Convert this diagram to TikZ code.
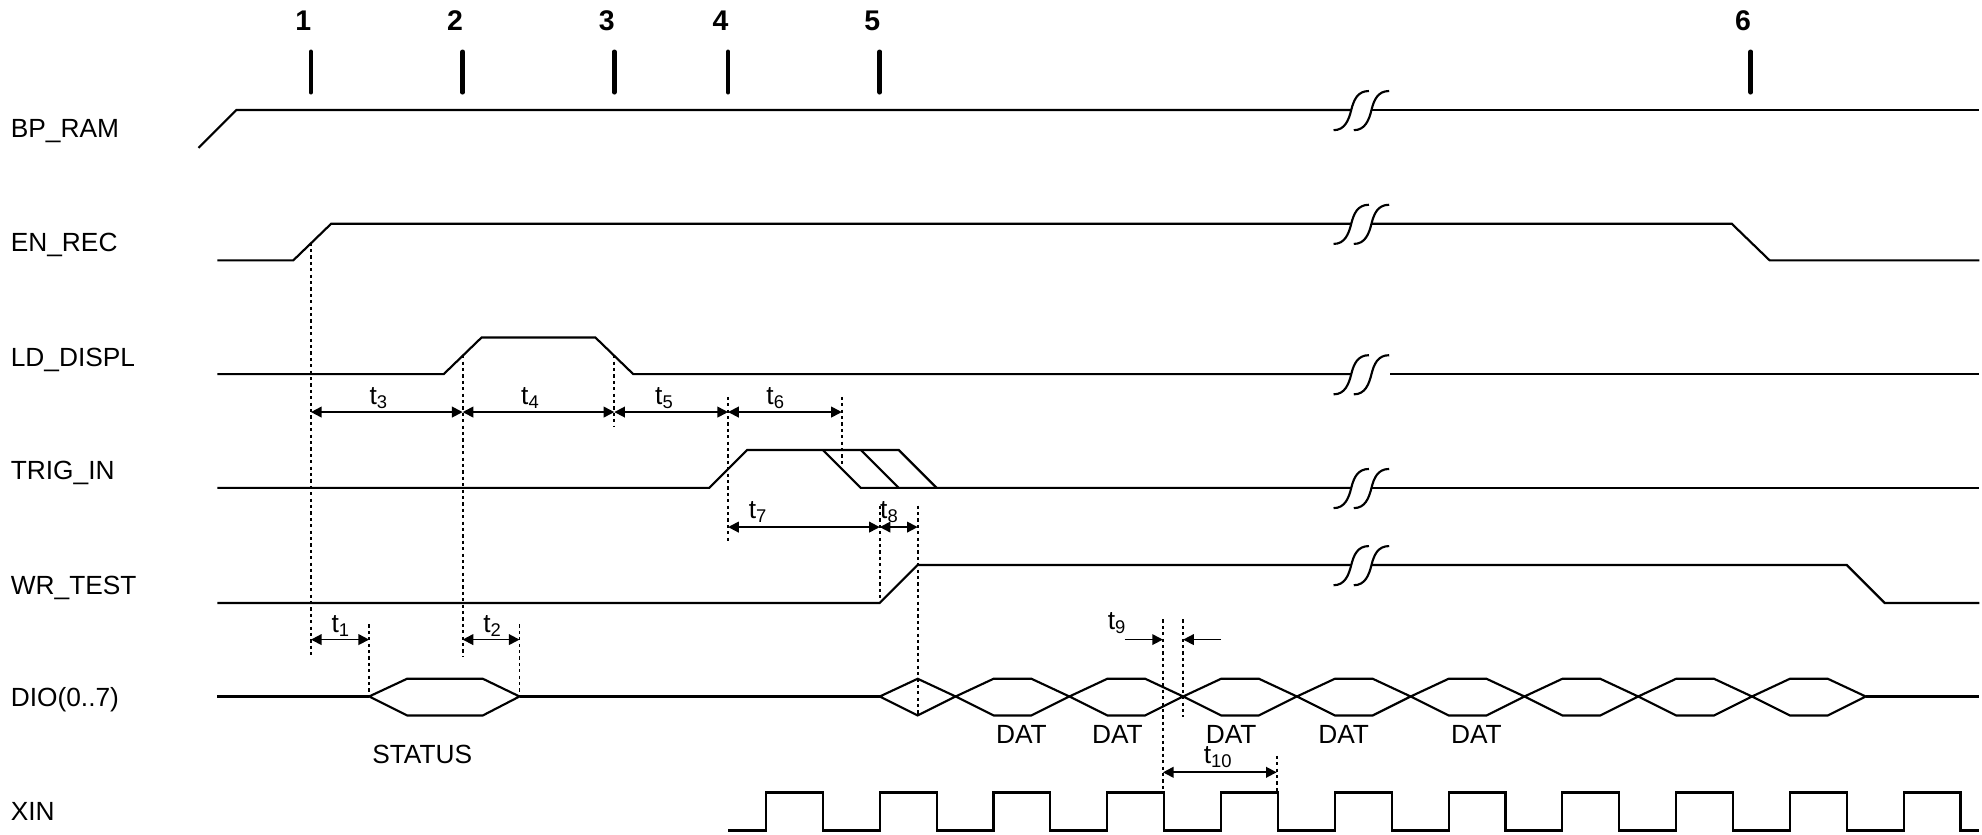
\documentclass[tikz,border=0pt]{standalone}
\usepackage{fontspec}
\setmainfont{Liberation Sans}
\usetikzlibrary{arrows.meta}

% break mark on a signal line, first stroke centred at (#1,#2)
\newcommand{\brkmark}[2]{%
  \foreach \d in {0,16} {
    \draw[sig] ({#1+\d-14},{#2+16}) .. controls ({#1+\d-5},{#2+16}) and ({#1+\d-2},{#2+8}) .. ({#1+\d},{#2})
      .. controls ({#1+\d+2},{#2-8}) and ({#1+\d+5},{#2-15}) .. ({#1+\d+14},{#2-15});
  }
}

\begin{document}
\begin{tikzpicture}[
x=0.125mm, y=-0.125mm,
sig/.style={line width=0.6pt},
tickmark/.style={line width=1.3pt, line cap=round},
guide/.style={line width=0.55pt, dash pattern=on 0.9pt off 0.9pt},
dim/.style={{Triangle[length=3pt,width=3pt]}-{Triangle[length=3pt,width=3pt]}, line width=0.5pt},
half/.style={-{Triangle[length=3pt,width=3pt]}, line width=0.45pt},
lbl/.style={font=\fontsize{7.4}{8}\selectfont, inner sep=0pt, anchor=base},
sname/.style={lbl, anchor=base west},
num/.style={font=\fontsize{8}{9}\selectfont\bfseries, inner sep=0pt, anchor=base}
]
\useasboundingbox (0,0) rectangle (1568,660);

% signal names
\node[sname] (bpram) at (8,109) {BP\_RAM};
\node[sname] (enrec) at (8,199) {EN\_REC};
\node[sname] (lddispl) at (8,290) {LD\_DISPL};
\node[sname] (trigin) at (8,379) {TRIG\_IN};
\node[sname] (wrtest) at (8,470) {WR\_TEST};
\node[sname] (dio) at (8,559) {DIO(0..7)};
\node[sname] (xin) at (8,649) {XIN};

% time marks
\foreach \x/\n in {246/1,366/2,486/3,576/4,696/5,1385/6} {
  \draw[tickmark] (\x,41) -- (\x,73);
  \node[num] (n\n) at ({\x-6},24) {\n};
}

% BP_RAM
\draw[sig] (157,117) -- (187,87) -- (1069,87);
\draw[sig] (1085,87) -- (1566,87);
\brkmark{1069}{87}

% EN_REC
\draw[sig] (172,206) -- (232,206) -- (262,177) -- (1069,177);
\draw[sig] (1085,177) -- (1370,177) -- (1400,206) -- (1566,206);
\brkmark{1069}{177}

% LD_DISPL
\draw[sig] (172,296) -- (351,296) -- (381,267) -- (471,267) -- (501,296) -- (1069,296);
\draw[sig] (1100,296) -- (1566,296);
\brkmark{1069}{296}

% TRIG_IN
\draw[sig] (172,386) -- (561,386) -- (591,356) -- (711,356) -- (741,386);
\draw[sig] (651,356) -- (681,386) -- (1069,386);
\draw[sig] (681,356) -- (711,386);
\draw[sig] (1085,386) -- (1566,386);
\brkmark{1069}{386}

% WR_TEST
\draw[sig] (172,477) -- (696,477) -- (726,447) -- (1069,447);
\draw[sig] (1085,447) -- (1461,447) -- (1491,477) -- (1566,477);
\brkmark{1069}{447}

% DIO(0..7)
\draw[sig] (172,551) -- (292,551);
\draw[sig] (292,551) -- (322,537) -- (382,537) -- (411,551) -- (382,566) -- (322,566) -- cycle;
\draw[sig] (411,551) -- (696,551);
\draw[sig] (696,551) -- (726,537) -- (756,551) -- (726,566) -- cycle;
\foreach \c in {756,846,...,1386}
  \draw[sig] (\c,551) -- ({\c+30},537) -- ({\c+60},537) -- ({\c+90},551) -- ({\c+60},566) -- ({\c+30},566) -- cycle;
\draw[sig] (1476,551) -- (1566,551);
\node[lbl] (status) at (334,604) {STATUS};
\node[lbl] (dat1) at (808,588) {DAT};
\node[lbl] (dat2) at (884,588) {DAT};
\node[lbl] (dat3) at (974,588) {DAT};
\node[lbl] (dat4) at (1063,588) {DAT};
\node[lbl] (dat5) at (1168,588) {DAT};

% XIN
\draw[sig] (576,657) \foreach \k in {0,...,10} {
  -- ({606+90*\k},657) -- ({606+90*\k},627) -- ({651+90*\k},627) -- ({651+90*\k},657) } -- (1566,657);

% guides
\draw[guide] (246,192) -- (246,520);
\draw[guide] (366,281) -- (366,520);
\draw[guide] (486,281) -- (486,338);
\draw[guide] (576,314) -- (576,428);
\draw[guide] (666,314) -- (666,369);
\draw[guide] (696,400) -- (696,476);
\draw[guide] (726,400) -- (726,567);
\draw[guide] (292,494) -- (292,551);
\draw[guide] (411,494) -- (411,551);
\draw[guide] (920,490) -- (920,627);
\draw[guide] (936,490) -- (936,567);
\draw[guide] (1010,598) -- (1010,627);

% timing parameters
\draw[dim] (246,326) -- (366,326);
\draw[dim] (366,326) -- (486,326);
\draw[dim] (486,326) -- (576,326);
\draw[dim] (576,326) -- (666,326);
\node[lbl] (t3) at (300,320) {t\textsubscript{3}};
\node[lbl] (t4) at (420,320) {t\textsubscript{4}};
\node[lbl] (t5) at (526,320) {t\textsubscript{5}};
\node[lbl] (t6) at (614,320) {t\textsubscript{6}};
\draw[dim] (576,417) -- (696,417);
\draw[dim] (696,417) -- (726,417);
\node[lbl] (t7) at (600,410) {t\textsubscript{7}};
\node[lbl] (t8) at (704,410) {t\textsubscript{8}};
\draw[dim] (246,506) -- (292,506);
\draw[dim] (366,506) -- (411,506);
\node[lbl] (t1) at (270,500) {t\textsubscript{1}};
\node[lbl] (t2) at (390,500) {t\textsubscript{2}};
\draw[half] (890,506) -- (920,506);
\draw[half] (966,506) -- (936,506);
\node[lbl] (t9) at (884,498) {t\textsubscript{9}};
\draw[dim] (920,611) -- (1010,611);
\node[lbl] (t10) at (964,604) {t\textsubscript{10}};
\end{tikzpicture}
\end{document}
